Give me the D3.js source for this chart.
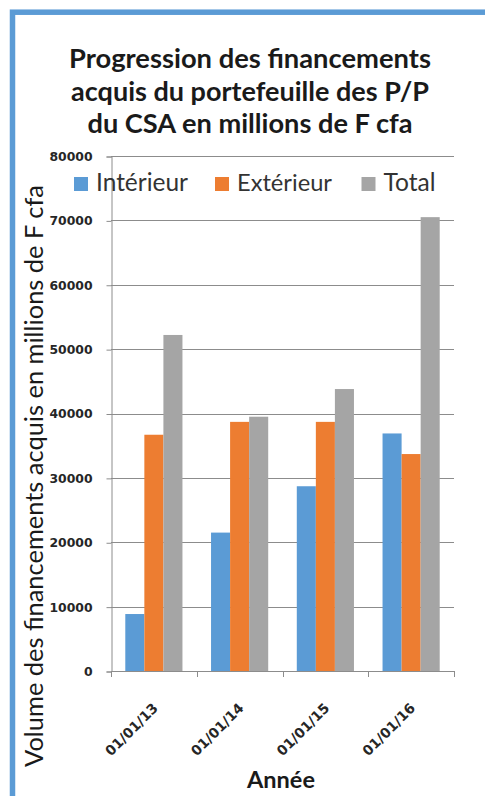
<!DOCTYPE html>
<html><head><meta charset="utf-8">
<script src="https://cdn.jsdelivr.net/npm/d3@7/dist/d3.min.js"></script>
<style>html,body{margin:0;padding:0;background:#fff;}svg{display:block;}</style>
</head><body>
<script>
const categories = ["01/01/13", "01/01/14", "01/01/15", "01/01/16"];
const seriesNames = ["Intérieur", "Extérieur", "Total"];
const interieur = [8850, 21500, 28700, 36900];
const exterieur = [36700, 38700, 38700, 33700];
const total = [52200, 39500, 43800, 70500];
const yTicks = [0, 10000, 20000, 30000, 40000, 50000, 60000, 70000, 80000];
const titleLines = ["Progression des financements", "acquis du portefeuille des P/P", "du CSA en millions de F cfa"];
const yTitle = "Volume des financements acquis en millions de F cfa";
const xTitle = "Année";
const colors = ["#5B9BD5", "#ED7D31", "#A5A5A5"];

const W = 485, H = 796;
const svg = d3.select("body").append("svg").attr("width", W).attr("height", H);

function fit(sel, target) {
  const fs = parseFloat(sel.attr("font-size"));
  const w = sel.node().getComputedTextLength();
  sel.attr("font-size", (fs * target / w).toFixed(2));
}

// frame
svg.append("rect").attr("x", 12.5).attr("y", 12.2).attr("width", 600).attr("height", 900)
  .attr("fill", "none").attr("stroke", "#5B9BD5").attr("stroke-width", 5.5);

const plot = {left: 111, right: 454, top: 156, bottom: 671};

const y = d3.scaleLinear().domain([0, 80000]).range([plot.bottom, plot.top]);
const x0 = d3.scaleBand().domain(categories).range([plot.left, plot.right]).padding(0);
const x1 = d3.scaleBand().domain(seriesNames).range([0, x0.bandwidth()]).paddingInner(0).paddingOuter(0.75);

// gridlines
svg.append("g").selectAll("line").data(yTicks).join("line")
  .attr("x1", plot.left).attr("x2", plot.right)
  .attr("y1", d => Math.round(y(d)) + 0.5).attr("y2", d => Math.round(y(d)) + 0.5)
  .attr("stroke", "#8c8c8c").attr("stroke-width", 1);

// bars
const rows = categories.map((c, i) => ({cat: c, vals: [interieur[i], exterieur[i], total[i]]}));
const g = svg.append("g").selectAll("g").data(rows).join("g")
  .attr("transform", d => `translate(${x0(d.cat)},0)`);
g.selectAll("rect").data(d => d.vals.map((v, j) => ({name: seriesNames[j], v, j}))).join("rect")
  .attr("x", d => x1(d.name)).attr("width", x1.bandwidth())
  .attr("y", d => y(d.v)).attr("height", d => plot.bottom - y(d.v))
  .attr("fill", d => colors[d.j]);

// y axis
const yAxis = svg.append("g").attr("transform", `translate(${plot.left + 0.5},0.5)`)
  .call(d3.axisLeft(y).tickValues(yTicks).tickSize(5).tickPadding(14).tickFormat(d3.format("d")));
yAxis.select(".domain").attr("stroke", "#8c8c8c");
yAxis.selectAll(".tick line").attr("stroke", "#8c8c8c");
yAxis.selectAll(".tick text").attr("font-family", "DejaVu Sans").attr("font-weight", "bold")
  .attr("font-size", 12.4).attr("fill", "#262626");

// x axis line + boundary ticks
svg.append("line").attr("x1", plot.left).attr("x2", plot.right)
  .attr("y1", plot.bottom + 0.5).attr("y2", plot.bottom + 0.5).attr("stroke", "#8c8c8c");
const bounds = categories.map(c => x0(c)).concat([plot.right]);
svg.append("g").selectAll("line").data(bounds).join("line")
  .attr("x1", d => Math.round(d) + 0.5).attr("x2", d => Math.round(d) + 0.5)
  .attr("y1", plot.bottom).attr("y2", plot.bottom + 6).attr("stroke", "#8c8c8c");

// x labels
svg.append("g").selectAll("text").data(categories).join("text")
  .attr("transform", d => `translate(${x0(d) + x0.bandwidth() / 2 + 5},${709}) rotate(-45)`)
  .attr("text-anchor", "end").attr("font-family", "DejaVu Sans").attr("font-weight", "bold")
  .attr("font-size", 13.8).attr("fill", "#262626").text(d => d);

// title
const tl = svg.append("g");
const titleBase = [68, 100.5, 133];
const titleW = [362, 358, 325];
titleLines.forEach((t, i) => {
  const s = tl.append("text").attr("x", 250).attr("y", titleBase[i]).attr("text-anchor", "middle")
    .attr("font-family", "Lato").attr("font-weight", "bold").attr("font-size", 24)
    .attr("fill", "#1a1a1a").text(t);
  fit(s, titleW[i]);
});

// legend
const legX = [74, 215, 361.5];
const legTextW = [92, 95, 52];
const leg = svg.append("g");
seriesNames.forEach((n, i) => {
  leg.append("rect").attr("x", legX[i]).attr("y", 177).attr("width", 14).attr("height", 14).attr("fill", colors[i]);
  const s = leg.append("text").attr("x", legX[i] + 22).attr("y", 191).attr("font-family", "Lato")
    .attr("font-size", 24).attr("fill", "#333").text(n);
  fit(s, legTextW[i]);
});

// y title
const yt = svg.append("text").attr("transform", `translate(43,476) rotate(-90)`).attr("text-anchor", "middle")
  .attr("font-family", "Lato").attr("font-size", 24).attr("fill", "#1a1a1a").text(yTitle);
fit(yt, 582);

// x title
const xt = svg.append("text").attr("x", 281).attr("y", 788).attr("text-anchor", "middle")
  .attr("font-family", "Lato").attr("font-weight", "bold").attr("font-size", 20).attr("fill", "#1a1a1a").text(xTitle);
fit(xt, 68);
</script>
</body></html>
